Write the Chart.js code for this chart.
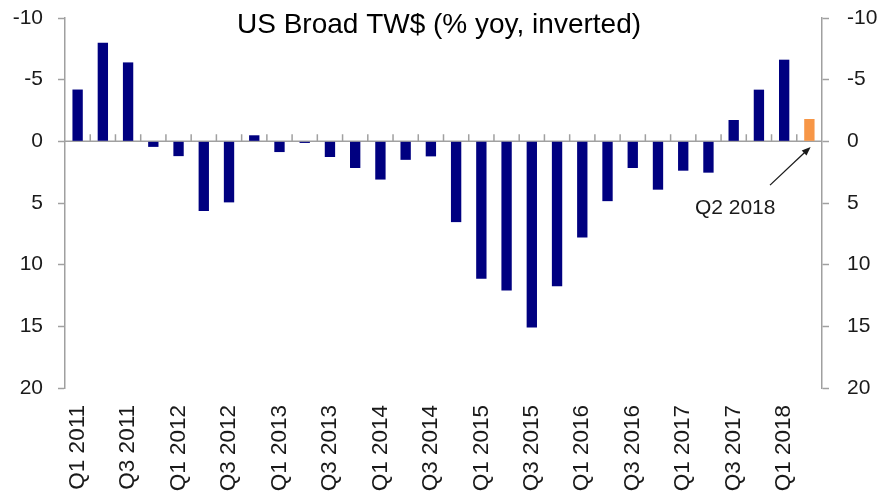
<!DOCTYPE html>
<html>
<head>
<meta charset="utf-8">
<script src="https://cdn.jsdelivr.net/npm/chart.js@4"></script>
<style>
html,body{margin:0;padding:0;background:#fff;}
#wrap{width:882px;height:500px;position:relative;}
</style>
</head>
<body>
<div id="wrap"><canvas id="c" width="882" height="500"></canvas></div>
<script>
const categories = [
  'Q1 2011','Q2 2011','Q3 2011','Q4 2011',
  'Q1 2012','Q2 2012','Q3 2012','Q4 2012',
  'Q1 2013','Q2 2013','Q3 2013','Q4 2013',
  'Q1 2014','Q2 2014','Q3 2014','Q4 2014',
  'Q1 2015','Q2 2015','Q3 2015','Q4 2015',
  'Q1 2016','Q2 2016','Q3 2016','Q4 2016',
  'Q1 2017','Q2 2017','Q3 2017','Q4 2017',
  'Q1 2018','Q2 2018'
];
const yoyChange = [
  -4.2, -8.0, -6.4, 0.45,
  1.2, 5.65, 4.95, -0.49,
  0.87, 0.13, 1.27, 2.16,
  3.1, 1.5, 1.22, 6.55,
  11.15, 12.1, 15.1, 11.75,
  7.8, 4.85, 2.16, 3.92,
  2.38, 2.54, -1.73, -4.19,
  -6.62, -1.81
];
const yTicks = [-10, -5, 0, 5, 10, 15, 20];
const titleText = 'US Broad TW$ (% yoy, inverted)';
const annotationText = 'Q2 2018';
const annotationTextPos = [26.06, 5.43];
const arrowFrom = [27.44, 3.55];
const arrowTo = [29.05, 0.45];

const NAVY = '#000080';
const ORANGE = '#F79646';
const AXIS = '#a0a0a0';
const TEXT = '#1a1a1a';
const FONT = '"Liberation Sans", Arial, Helvetica, sans-serif';

const overlay = {
  id: 'overlay',
  beforeDatasetsDraw(chart) {
    const {ctx, chartArea, scales} = chart;
    const x = scales.x, y = scales.y;
    const y0 = y.getPixelForValue(0);
    ctx.save();
    ctx.strokeStyle = AXIS;
    ctx.lineWidth = 1.5;
    ctx.beginPath();
    ctx.moveTo(chartArea.left, y0);
    ctx.lineTo(chartArea.right, y0);
    const n = categories.length;
    for (let i = 1; i < n; i++) {
      const xb = (x.getPixelForValue(i - 1) + x.getPixelForValue(i)) / 2;
      ctx.moveTo(xb, y0);
      ctx.lineTo(xb, y0 - 7);
    }
    ctx.stroke();
    ctx.restore();
  },
  afterDraw(chart) {
    const {ctx, scales} = chart;
    const x = scales.x, y = scales.y;
    const px = v => x.getPixelForValue(v);
    ctx.save();
    ctx.fillStyle = '#000';
    ctx.font = '28px ' + FONT;
    ctx.textAlign = 'center';
    ctx.textBaseline = 'middle';
    ctx.fillText(titleText, chart.width / 2 - 2, 25);
    ctx.fillStyle = TEXT;
    ctx.font = '21px ' + FONT;
    ctx.fillText(annotationText, px(annotationTextPos[0]), y.getPixelForValue(annotationTextPos[1]));
    const x1 = px(arrowFrom[0]), y1 = y.getPixelForValue(arrowFrom[1]);
    const x2 = px(arrowTo[0]), y2 = y.getPixelForValue(arrowTo[1]);
    const ang = Math.atan2(y2 - y1, x2 - x1);
    const hl = 9, hw = 3.5;
    ctx.strokeStyle = TEXT;
    ctx.lineWidth = 1.3;
    ctx.beginPath();
    ctx.moveTo(x1, y1);
    ctx.lineTo(x2 - Math.cos(ang) * hl * 0.8, y2 - Math.sin(ang) * hl * 0.8);
    ctx.stroke();
    ctx.fillStyle = TEXT;
    ctx.beginPath();
    ctx.moveTo(x2, y2);
    ctx.lineTo(x2 - Math.cos(ang) * hl - Math.sin(ang) * hw, y2 - Math.sin(ang) * hl + Math.cos(ang) * hw);
    ctx.lineTo(x2 - Math.cos(ang) * hl + Math.sin(ang) * hw, y2 - Math.sin(ang) * hl - Math.cos(ang) * hw);
    ctx.closePath();
    ctx.fill();
    ctx.restore();
  }
};

const yAxisBase = (pos) => ({
  type: 'linear',
  position: pos,
  reverse: true,
  min: yTicks[0],
  max: yTicks[yTicks.length - 1],
  afterBuildTicks(scale) { scale.ticks = yTicks.map(v => ({value: v})); },
  grid: { display: true, drawOnChartArea: false, drawTicks: true, tickLength: 7, tickColor: AXIS, tickWidth: 1.5 },
  border: { display: true, color: AXIS, width: 1.5 },
  ticks: {
    color: TEXT,
    font: { family: FONT, size: 21 },
    padding: pos === 'left' ? 15 : 18,
    callback: v => String(v)
  },
  afterFit(scale) {
    scale.width = pos === 'left' ? 65 : 60;
    scale.paddingTop = 0;
    scale.paddingBottom = 0;
  }
});

new Chart(document.getElementById('c'), {
  type: 'bar',
  data: {
    labels: categories,
    datasets: [{
      data: yoyChange,
      backgroundColor: ctx => ctx.dataIndex === yoyChange.length - 1 ? ORANGE : NAVY,
      barPercentage: 0.41,
      categoryPercentage: 1.0,
      borderWidth: 0,
      yAxisID: 'y'
    }]
  },
  options: {
    responsive: false,
    animation: false,
    events: [],
    layout: { padding: { top: 18, left: 0, right: 0, bottom: 0 } },
    plugins: { legend: { display: false }, title: { display: false }, tooltip: { enabled: false } },
    scales: {
      x: {
        type: 'category',
        offset: true,
        grid: { display: false, drawTicks: false },
        border: { display: false },
        ticks: {
          autoSkip: false,
          minRotation: 90,
          maxRotation: 90,
          padding: 17,
          color: TEXT,
          font: { family: FONT, size: 22.5 },
          callback: function(v, i) { return i % 2 === 0 ? this.getLabelForValue(v) : ''; }
        },
        afterFit(scale) { scale.height = 112; }
      },
      y: yAxisBase('left'),
      y2: yAxisBase('right')
    }
  },
  plugins: [overlay]
});
</script>
</body>
</html>
